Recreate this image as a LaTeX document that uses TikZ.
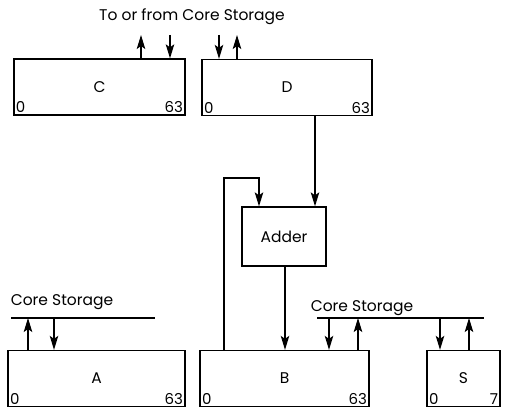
\documentclass[tikz,border=0pt]{standalone}
\usepackage{fontspec}
\setmainfont{Poppins}
\usetikzlibrary{arrows.meta, positioning, calc}
\tikzset{
        flow/.style={-{Stealth[length=14pt,width=8.5pt,inset=3pt]}}, % narrow filled heads
        reg/.style={ % register box, width given
                draw,
                minimum width={#1},
                minimum height=56pt,
                inner sep=0pt,
        },
        bitno/.style={
                font=\fontsize{15}{15}\selectfont,
                inner sep=2pt,
        },
}

\begin{document}
\begin{tikzpicture}[x=1pt, y=-1pt, line width=1.3pt, font=\fontsize{15.5}{17}\selectfont]
    \useasboundingbox (0,0) rectangle (509,411);

    % registers
    \node [reg=171pt] (C) at (99.5,87) {C};
    \node [reg=170pt] (D) at (287,87.5) {D};
    \node [reg=84pt, minimum height=59pt] (adder) at (284,236.5) {Adder};
    \node [reg=177pt] (A) at (96.5,378.5) {A};
    \node [reg=169pt] (B) at (284.5,378.5) {B};
    \node [reg=73pt] (S) at (463.5,378.5) {S};

    % bit numbers
    \node [bitno, anchor=south west] (C0) at (C.south west) {0};
    \node [bitno, anchor=south east] (C63) at (C.south east) {63};
    \node [bitno, anchor=south west] (D0) at (D.south west) {0};
    \node [bitno, anchor=south east] (D63) at (D.south east) {63};
    \node [bitno, anchor=south west] (A0) at (A.south west) {0};
    \node [bitno, anchor=south east] (A63) at (A.south east) {63};
    \node [bitno, anchor=south west] (B0) at (B.south west) {0};
    \node [bitno, anchor=south east] (B63) at (B.south east) {63};
    \node [bitno, anchor=south west] (S0) at (S.south west) {0};
    \node [bitno, anchor=south east] (S7) at (S.south east) {7};

    % top: to or from core storage
    \node (top) at (192,17) {To or from Core Storage};
    \coordinate (cup) at (141,35);
    \coordinate (cdown) at (170,35);
    \coordinate (ddown) at (219,35);
    \coordinate (dup) at (237,35);
    \draw [flow] (cup |- C.north) -- (cup);
    \draw [flow] (cdown) -- (cdown |- C.north);
    \draw [flow] (ddown) -- (ddown |- D.north);
    \draw [flow] (dup |- D.north) -- (dup);

    % D and B into the adder, sum back to B
    \draw [flow] (D.south -| 315,0) -- (adder.north -| 315,0);
    \coordinate (loop) at (224,178);
    \draw [flow] (B.north -| loop) -- (loop) -| (adder.north -| 259,0);
    \draw [flow] (adder.south -| 285,0) -- (B.north -| 285,0);

    % core storage buses
    \coordinate (busA l) at (11,318);
    \coordinate (busA r) at (155,318);
    \draw (busA l) -- (busA r);
    \node (csA) at (62,302) {Core Storage};
    \draw [flow] (A.north -| 28,0) -- (busA l -| 28,0);
    \draw [flow] (busA l -| 54,0) -- (A.north -| 54,0);

    \coordinate (busB l) at (317,318);
    \coordinate (busB r) at (484,318);
    \draw (busB l) -- (busB r);
    \node (csB) at (362,308) {Core Storage};
    \draw [flow] (busB l -| 329,0) -- (B.north -| 329,0);
    \draw [flow] (B.north -| 358,0) -- (busB l -| 358,0);
    \draw [flow] (busB l -| 440,0) -- (S.north -| 440,0);
    \draw [flow] (S.north -| 469,0) -- (busB l -| 469,0);
\end{tikzpicture}
\end{document}
